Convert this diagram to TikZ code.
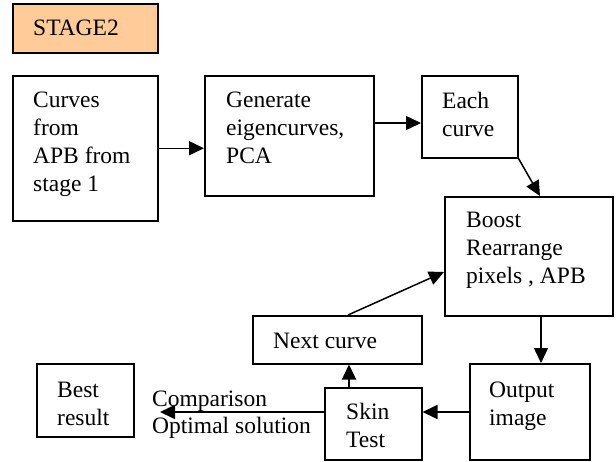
\documentclass[tikz,border=0pt]{standalone}
\usepackage{fontspec}
\setmainfont{Liberation Serif}
\usetikzlibrary{arrows.meta,calc}
\definecolor{stagefill}{HTML}{FFCC99}
\newcommand{\boxtext}[1]{\begin{tabular}[t]{@{}l@{}}#1\end{tabular}}
\begin{document}
\begin{tikzpicture}[x=1pt,y=-1pt,
  box/.style={draw=black,line width=1.5pt,anchor=north west,inner sep=0pt,
              minimum width=#1},
  box/.default=100,
  txt/.style={anchor=base west,inner sep=0pt,
              font=\fontsize{23.5}{28}\selectfont},
  flow/.style={draw=black,line width=1.5pt,-{Triangle[length=15pt,width=14pt]}}]
\useasboundingbox (0,0) rectangle (616,461);

% boxes
\node[box=145,minimum height=49,fill=stagefill] (stage) at (12,3) {};
\node[box=145,minimum height=145] (curves)   at (12,75)  {};
\node[box=169,minimum height=120] (generate) at (204,75) {};
\node[box=96, minimum height=82]  (each)     at (421,75) {};
\node[box=168,minimum height=119] (boost)    at (444,196) {};
\node[box=169,minimum height=48]  (next)     at (252,315) {};
\node[box=120,minimum height=96]  (output)   at (469,363) {};
\node[box=97, minimum height=72]  (skin)     at (324,387) {};
\node[box=97, minimum height=73]  (best)     at (36,363) {};

% texts inside the boxes
\node[txt] (tstage) at ($(stage.north west)+(21,32)$) {STAGE2};
\node[txt] (tcurves) at ($(curves.north west)+(21,32)$) {\boxtext{Curves\\from\\APB from\\stage 1}};
\node[txt] (tgen) at ($(generate.north west)+(22,32)$) {\boxtext{Generate\\eigencurves,\\PCA}};
\node[txt] (teach) at ($(each.north west)+(21,33)$) {\boxtext{Each\\curve}};
\node[txt] (tboost) at ($(boost.north west)+(22,31)$) {\boxtext{Boost\\Rearrange\\pixels , APB}};
\node[txt] (tnext) at ($(next.north west)+(21,33)$) {Next curve};
\node[txt] (toutput) at ($(output.north west)+(20,34)$) {\boxtext{Output\\image}};
\node[txt] (tskin) at ($(skin.north west)+(22,32)$) {\boxtext{Skin\\Test}};
\node[txt] (tbest) at ($(best.north west)+(21,34)$) {\boxtext{Best\\result}};

% label of the outgoing comparison arrow
\node[txt,font=\fontsize{23.5}{27}\selectfont] (cmp) at (152,406) {\boxtext{Comparison\\Optimal solution}};

% connector end points
\coordinate (genout)  at ($(generate.north east)+(0,48)$);
\coordinate (boostin) at ($(boost.north west)+(96,0)$);
\coordinate (boostout) at ($(boost.south west)+(97,0)$);
\coordinate (outout)  at ($(output.north west)+(0,49)$);
\coordinate (skinup)  at ($(skin.north west)+(25,0)$);
\coordinate (nextup)  at ($(next.north west)+(96,0)$);
\coordinate (boostback) at ($(boost.north west)+(0,76)$);
\coordinate (cmpend)  at (160,412);

% connectors
\draw[flow] (curves.east) -- (curves.east -| generate.west);
\draw[flow] (genout) -- (genout -| each.west);
\draw[flow] (each.south east) -- (boostin);
\draw[flow] (boostout) -- (boostout |- output.north);
\draw[flow] (outout) -- (outout -| skin.east);
\draw[flow] (skinup) -- (skinup |- next.south);
\draw[flow] (nextup) -- (boostback);
\draw[flow] (outout -| skin.west) -- (cmpend);
\end{tikzpicture}
\end{document}
